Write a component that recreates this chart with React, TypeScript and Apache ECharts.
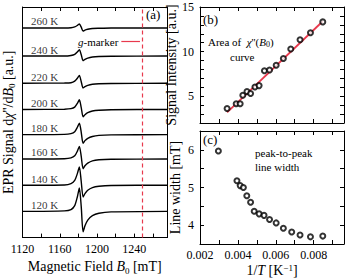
import React, { useEffect, useRef } from 'react';
import * as echarts from 'echarts';

// ---- Panel (a): EPR derivative spectra ----
const fieldGrid = [1120, 1165, 1172, 1176, 1179, 1181, 1183, 1185, 1187, 1190, 1195, 1202, 1215, 1275];
const temps = [260, 240, 220, 200, 180, 160, 140, 120];
const baselines = [8.0, 6.93, 5.89, 4.89, 3.93, 3.0, 2.0, 1.0];
const sig260 = [0, 0, 0.01, 0.04, 0.1, 0.15, 0.03, -0.12, -0.08, -0.05, -0.02, -0.01, 0, 0];
const sig240 = [0, 0, 0.02, 0.06, 0.16, 0.24, 0.05, -0.18, -0.13, -0.08, -0.04, -0.02, -0.01, 0];
const sig220 = [0, 0.01, 0.02, 0.08, 0.2, 0.3, 0.06, -0.18, -0.13, -0.08, -0.04, -0.02, -0.01, 0];
const sig200 = [0, 0.01, 0.03, 0.09, 0.24, 0.37, 0.07, -0.28, -0.2, -0.12, -0.06, -0.03, -0.01, 0];
const sig180 = [0, 0.01, 0.04, 0.11, 0.29, 0.44, 0.09, -0.33, -0.23, -0.14, -0.07, -0.03, -0.01, 0];
const sig160 = [0, 0.01, 0.04, 0.12, 0.31, 0.48, 0.1, -0.37, -0.26, -0.16, -0.07, -0.03, -0.01, 0];
const sig140 = [0, 0.01, 0.06, 0.18, 0.46, 0.7, 0.14, -0.45, -0.32, -0.19, -0.09, -0.04, -0.01, 0];
const sig120 = [0, 0.02, 0.07, 0.22, 0.58, 0.89, 0.18, -0.78, -0.55, -0.33, -0.16, -0.07, -0.02, 0];
const signals = [sig260, sig240, sig220, sig200, sig180, sig160, sig140, sig120];
const gMarkerField = 1248;
const arrowFrom = [1226, 7.48];
const arrowTo = [1246, 7.48];

// ---- Panel (b): signal intensity vs 1/T ----
const invTb = [0.00343, 0.00391, 0.00412, 0.00426, 0.00448, 0.00467, 0.0049, 0.00512, 0.0054, 0.00567, 0.00602, 0.0064, 0.00679, 0.00728, 0.00783, 0.00848];
const intensity = [3.63, 4.15, 4.15, 5.11, 5.52, 5.3, 6.04, 6.19, 7.85, 7.93, 8.48, 9.22, 10.3, 11.33, 12.11, 13.33];
const fitX = [0.00343, 0.00848];
const fitY = [3.2, 13.4];

// ---- Panel (c): peak-to-peak line width vs 1/T ----
const invTc = [0.00297, 0.00395, 0.00412, 0.00429, 0.00447, 0.00467, 0.00486, 0.00512, 0.00538, 0.00567, 0.00602, 0.0064, 0.00684, 0.00728, 0.00783, 0.00848];
const lineWidthMT = [5.97, 5.18, 5.05, 5.0, 4.78, 4.61, 4.37, 4.3, 4.26, 4.15, 4.06, 3.92, 3.82, 3.74, 3.69, 3.71];

const FONT = '"Liberation Serif", "DejaVu Serif", serif';
const RED = '#e8394d';

const rich = {
  i: { fontStyle: 'italic', fontFamily: FONT, fontSize: 14, color: '#000' },
  sub: { fontSize: 9, fontFamily: FONT, color: '#000', verticalAlign: 'bottom', padding: [8, 0, 0, 0] },
  sup: { fontSize: 9, fontFamily: FONT, color: '#000', verticalAlign: 'top', padding: [0, 0, 6, 0] },
};

function frameAxis(extra: any) {
  return {
    axisLine: { show: true, onZero: false, lineStyle: { color: '#000', width: 1 } },
    axisTick: { show: true, inside: true, length: 4, lineStyle: { color: '#000', width: 1 } },
    splitLine: { show: false },
    axisLabel: { show: false },
    ...extra,
  };
}

const labelStyle = { color: '#000', fontFamily: FONT, fontSize: 12 };

export default function App() {
  const ref = useRef<HTMLDivElement>(null);
  useEffect(() => {
    if (!ref.current) return;
    const chart = echarts.init(ref.current, undefined, { renderer: 'svg' });

    const xA = { min: 1120, max: 1275, interval: 40 };
    const xT = { min: 0.002, max: 0.0096, interval: 0.002 };
    const minorX = { show: true, splitNumber: 2, length: 4, lineStyle: { color: '#000', width: 1 } };

    const traceSeries = signals.map((sig, k) => ({
      type: 'line',
      xAxisIndex: 0,
      yAxisIndex: 0,
      data: fieldGrid.map((b, i) => [b, baselines[k] + sig[i]]),
      symbol: 'none',
      smooth: 0.25,
      lineStyle: { color: '#000', width: 1.4 },
      z: 3,
      ...(k === 0
        ? {
            markLine: {
              silent: true,
              symbol: 'none',
              label: { show: false },
              lineStyle: { color: RED, type: [4, 3], width: 1.2 },
              data: [{ xAxis: gMarkerField }],
            },
          }
        : {}),
      ...(k === 1
        ? {
            markLine: {
              silent: true,
              symbol: ['none', 'arrow'],
              symbolSize: [0, 6],
              label: { show: false },
              lineStyle: { color: RED, type: 'solid', width: 1.2 },
              data: [[{ coord: arrowFrom }, { coord: arrowTo }]],
            },
          }
        : {}),
    }));

    const option: any = {
      animation: false,
      grid: [
        { left: 21, top: 7, width: 146, height: 237, show: false },
        { left: 200, top: 7, width: 144, height: 116, show: false },
        { left: 200, top: 131, width: 144, height: 113, show: false },
      ],
      xAxis: [
        frameAxis({
          type: 'value', gridIndex: 0, position: 'bottom', ...xA,
          minorTick: minorX,
          axisLabel: { show: true, ...labelStyle, margin: 5, showMaxLabel: false, formatter: (v: number) => String(Math.round(v)) },
          name: 'Magnetic Field {i|B}{sub|0} [mT]',
          nameLocation: 'middle', nameGap: 19,
          nameTextStyle: { color: '#000', fontFamily: FONT, fontSize: 14, rich },
        }),
        frameAxis({ type: 'value', gridIndex: 0, position: 'top', ...xA, minorTick: minorX }),
        frameAxis({ type: 'value', gridIndex: 1, position: 'bottom', ...xT, minorTick: minorX }),
        frameAxis({ type: 'value', gridIndex: 1, position: 'top', ...xT, minorTick: minorX }),
        frameAxis({
          type: 'value', gridIndex: 2, position: 'bottom', ...xT,
          minorTick: minorX,
          axisLabel: { show: true, ...labelStyle, margin: 5, showMaxLabel: false, formatter: (v: number) => v.toFixed(3) },
          name: '1/{i|T} [K{sup|−1}]',
          nameLocation: 'middle', nameGap: 19,
          nameTextStyle: { color: '#000', fontFamily: FONT, fontSize: 14, rich },
        }),
        frameAxis({ type: 'value', gridIndex: 2, position: 'top', ...xT, minorTick: minorX }),
      ],
      yAxis: [
        frameAxis({
          type: 'value', gridIndex: 0, position: 'left', min: 0, max: 8.8,
          axisTick: { show: false },
          name: 'EPR Signal d{i|χ}\'\'/d{i|B}{sub|0} [a.u.]',
          nameLocation: 'middle', nameGap: 6,
          nameTextStyle: { color: '#000', fontFamily: FONT, fontSize: 14, rich },
        }),
        frameAxis({ type: 'value', gridIndex: 0, position: 'right', min: 0, max: 8.8, axisTick: { show: false } }),
        frameAxis({
          type: 'value', gridIndex: 1, position: 'left', min: 2, max: 15, interval: 1,
          axisLabel: { show: true, ...labelStyle, margin: 6, formatter: (v: number) => (v % 5 === 0 ? String(v) : '') },
          name: 'Signal Intensity [a.u.]',
          nameLocation: 'middle', nameGap: 18,
          nameTextStyle: { color: '#000', fontFamily: FONT, fontSize: 14 },
        }),
        frameAxis({ type: 'value', gridIndex: 1, position: 'right', min: 2, max: 15, interval: 1 }),
        frameAxis({
          type: 'value', gridIndex: 2, position: 'left', min: 3.5, max: 6.5, interval: 0.5,
          axisLabel: { show: true, ...labelStyle, margin: 6, formatter: (v: number) => (Math.abs(v - Math.round(v)) < 1e-6 ? String(Math.round(v)) : '') },
          name: 'Line width [mT]',
          nameLocation: 'middle', nameGap: 18,
          nameTextStyle: { color: '#000', fontFamily: FONT, fontSize: 14 },
        }),
        frameAxis({ type: 'value', gridIndex: 2, position: 'right', min: 3.5, max: 6.5, interval: 0.5 }),
      ],
      series: [
        ...traceSeries,
        {
          type: 'scatter',
          xAxisIndex: 0,
          yAxisIndex: 0,
          symbolSize: 0,
          silent: true,
          data: temps.map((t, k) => ({ value: [1129, baselines[k]], name: `${t} K` })),
          label: {
            show: true, formatter: '{b}', position: [0, -12],
            color: '#000', fontFamily: FONT, fontSize: 11,
          },
        },
        {
          type: 'line',
          xAxisIndex: 2,
          yAxisIndex: 2,
          data: fitX.map((x, i) => [x, fitY[i]]),
          symbol: 'none',
          lineStyle: { color: RED, width: 1.8 },
          z: 2,
        },
        {
          type: 'scatter',
          xAxisIndex: 2,
          yAxisIndex: 2,
          data: invTb.map((x, i) => [x, intensity[i]]),
          symbol: 'circle',
          symbolSize: 5,
          itemStyle: { color: '#fff', borderColor: '#000', borderWidth: 2 },
          z: 3,
        },
        {
          type: 'scatter',
          xAxisIndex: 4,
          yAxisIndex: 4,
          data: invTc.map((x, i) => [x, lineWidthMT[i]]),
          symbol: 'circle',
          symbolSize: 5,
          itemStyle: { color: '#fff', borderColor: '#000', borderWidth: 2 },
          z: 3,
        },
      ],
      graphic: [
        { type: 'text', left: 146, top: 8, style: { text: '(a)', fontFamily: FONT, fontSize: 13, fill: '#000' } },
        {
          type: 'text', left: 78, top: 36,
          style: {
            text: '{i|g}-marker', fontFamily: FONT, fontSize: 11, fill: '#000',
            rich: { i: { fontStyle: 'italic', fontFamily: FONT, fontSize: 11 } },
          },
        },
        { type: 'text', left: 203, top: 13, style: { text: '(b)', fontFamily: FONT, fontSize: 13, fill: '#000' } },
        {
          type: 'text', left: 208, top: 36,
          style: {
            text: 'Area of  {i|χ}\'\'({i|B}{s|0})', fontFamily: FONT, fontSize: 11, fill: '#000',
            rich: {
              i: { fontStyle: 'italic', fontFamily: FONT, fontSize: 11 },
              s: { fontFamily: FONT, fontSize: 8, verticalAlign: 'bottom', padding: [6, 0, 0, 0] },
            },
          },
        },
        { type: 'text', left: 230, top: 51, style: { text: 'curve', fontFamily: FONT, fontSize: 11, fill: '#000' } },
        { type: 'text', left: 203, top: 133, style: { text: '(c)', fontFamily: FONT, fontSize: 13, fill: '#000' } },
        { type: 'text', left: 255, top: 147, style: { text: 'peak-to-peak', fontFamily: FONT, fontSize: 11, fill: '#000' } },
        { type: 'text', left: 255, top: 161, style: { text: 'line width', fontFamily: FONT, fontSize: 11, fill: '#000' } },
      ],
    };
    chart.setOption(option);
    return () => chart.dispose();
  }, []);
  return (
    <div
      ref={ref}
      style={{ position: 'fixed', left: 0, top: 0, width: 348, height: 280, background: '#fff' }}
    />
  );
}
